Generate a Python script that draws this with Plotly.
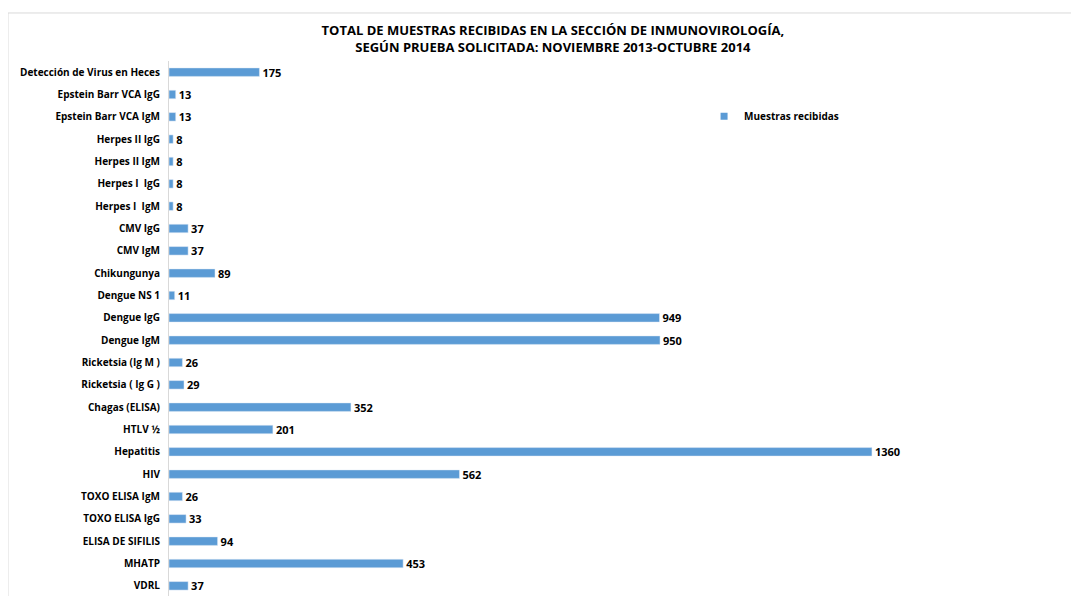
import plotly.graph_objects as go

# Pruebas (de arriba hacia abajo) y muestras recibidas
pruebas = [
    "Detección de Virus en Heces", "Epstein Barr VCA IgG", "Epstein Barr VCA IgM",
    "Herpes II IgG", "Herpes II IgM", "Herpes I  IgG", "Herpes I  IgM",
    "CMV IgG", "CMV IgM", "Chikungunya", "Dengue NS 1", "Dengue IgG", "Dengue IgM",
    "Ricketsia (Ig M )", "Ricketsia ( Ig G )", "Chagas (ELISA)", "HTLV ½",
    "Hepatitis", "HIV", "TOXO ELISA IgM", "TOXO ELISA IgG", "ELISA DE SIFILIS",
    "MHATP", "VDRL",
]
muestras = [175, 13, 13, 8, 8, 8, 8, 37, 37, 89, 11, 949, 950, 26, 29,
            352, 201, 1360, 562, 26, 33, 94, 453, 37]

serie = "Muestras recibidas"
titulo = ("<b>TOTAL DE MUESTRAS RECIBIDAS EN LA SECCIÓN DE INMUNOVIROLOGÍA,<br>"
          "SEGÚN PRUEBA SOLICITADA: NOVIEMBRE 2013-OCTUBRE 2014</b>")
azul = "#5B9BD5"

fig = go.Figure()
fig.add_trace(go.Bar(
    x=muestras,
    y=pruebas,
    orientation="h",
    name=serie,
    showlegend=False,
    marker=dict(color=azul),
    width=0.38,
    text=[f"<b>{v}</b>" for v in muestras],
    textposition="outside",
    constraintext="none",
    textfont=dict(size=11, color="#000000"),
    cliponaxis=False,
))
# entrada de leyenda con cuadrito pequeño, como en Excel
fig.add_trace(go.Scatter(
    x=[None], y=[None], mode="markers", name=f"<b>{serie}</b>",
    marker=dict(symbol="square", size=7, color=azul),
))

# marco gris claro del gráfico
fig.add_shape(type="rect", xref="paper", yref="paper",
              x0=-0.1947, x1=1.098, y0=-0.05, y1=1.0896,
              line=dict(color="#D9D9D9", width=1), layer="below")

fig.update_layout(
    width=1079,
    height=596,
    margin=dict(l=161, r=91, t=53, b=7),
    paper_bgcolor="white",
    plot_bgcolor="white",
    font=dict(family="Open Sans", color="#000000"),
    title=dict(text=titulo, x=0.505, xanchor="center", y=0.955, yanchor="top",
               font=dict(size=13, color="#000000")),
    showlegend=True,
    legend=dict(x=0.647, y=0.897, xanchor="left", yanchor="middle",
                font=dict(size=10, color="#000000"), bgcolor="rgba(0,0,0,0)",
                itemwidth=30),
)
fig.update_xaxes(range=[0, 1600], showticklabels=False, showgrid=False,
                 zeroline=False, showline=False)
fig.update_yaxes(autorange="reversed", showgrid=False, zeroline=False,
                 showline=True, linecolor="#D9D9D9", linewidth=1,
                 ticks="", ticklabelstandoff=6,
                 tickfont=dict(size=10, color="#000000", family="Open Sans"),
                 tickprefix="<b>", ticksuffix="</b>")

fig.write_html("out.html")
